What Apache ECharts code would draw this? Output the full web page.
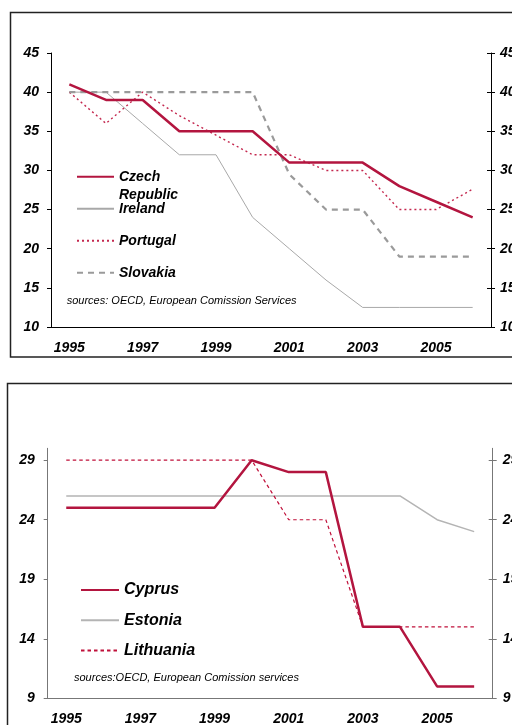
<!DOCTYPE html>
<html>
<head>
<meta charset="utf-8">
<style>
  html, body { margin: 0; padding: 0; background: #fff; }
  #chart { width: 512px; height: 725px; }
</style>
<script src="https://cdn.jsdelivr.net/npm/echarts@6.0.0/dist/echarts.min.js"></script>
</head>
<body>
<div id="chart"></div>
<script>
// years on the x axis (both panels)
const years = ['1995', '1996', '1997', '1998', '1999', '2000', '2001', '2002', '2003', '2004', '2005', '2006'];

// top panel
const czech = [41, 39, 39, 35, 35, 35, 31, 31, 31, 28, 26, 24];
const ireland = [40, 40, 36, 32, 32, 24, 20, 16, 12.5, 12.5, 12.5, 12.5];
const portugal = [40, 36, 40, 37, 34.5, 32, 32, 30, 30, 25, 25, 27.6];
const slovakia = [40, 40, 40, 40, 40, 40, 29.5, 25, 25, 19, 19, 19];

// bottom panel
const cyprus = [25, 25, 25, 25, 25, 29, 28, 28, 15, 15, 10, 10];
const estonia = [26, 26, 26, 26, 26, 26, 26, 26, 26, 26, 24, 23];
const lithuania = [29, 29, 29, 29, 29, 29, 24, 24, 15, 15, 15, 15];
const bottomTicks = [9, 14, 19, 24, 29];

const RED = '#b3153f';
const FONT = '"Liberation Sans", Arial, sans-serif';

const labelStyle = {
  color: '#000',
  fontFamily: FONT,
  fontSize: 14,
  fontWeight: 'bold',
  fontStyle: 'italic'
};

// three overlapping x axes per grid: main (labels + outer ticks), inner boundary ticks, small centre ticks
const makeXAxes = (gridIndex, lineColor) => [
  {
    gridIndex,
    type: 'category',
    data: years,
    boundaryGap: true,
    axisLine: { lineStyle: { color: lineColor, width: 1 } },
    axisTick: { interval: 0, length: 4, lineStyle: { color: lineColor } },
    axisLabel: { ...labelStyle, interval: 1, margin: 14 },
    splitLine: { show: false }
  },
  {
    gridIndex,
    type: 'category',
    data: years,
    boundaryGap: true,
    axisLine: { show: false },
    axisTick: { interval: 0, inside: true, length: 4, lineStyle: { color: lineColor } },
    axisLabel: { show: false },
    splitLine: { show: false }
  },
  {
    gridIndex,
    type: 'category',
    data: years,
    boundaryGap: true,
    axisLine: { show: false },
    axisTick: { interval: 0, inside: true, length: 3, alignWithLabel: true, lineStyle: { color: lineColor } },
    axisLabel: { show: false },
    splitLine: { show: false }
  }
];

const makeYAxes = (gridIndex, lineColor, scale, leftMargin, rightMargin) => {
  const custom = scale.ticks ? { customValues: scale.ticks } : {};
  const range = { min: scale.min, max: scale.max, ...(scale.interval ? { interval: scale.interval } : {}) };
  return [
    {
      gridIndex,
      type: 'value',
      position: 'left',
      ...range,
      axisLine: { show: true, lineStyle: { color: lineColor } },
      axisTick: { show: true, length: 4, lineStyle: { color: lineColor }, ...custom },
      axisLabel: { ...labelStyle, margin: leftMargin, ...custom },
      splitLine: { show: false }
    },
    {
      gridIndex,
      type: 'value',
      position: 'right',
      ...range,
      axisLine: { show: true, lineStyle: { color: lineColor } },
      axisTick: { show: true, length: 4, lineStyle: { color: lineColor }, ...custom },
      axisLabel: { ...labelStyle, margin: rightMargin, ...custom },
      splitLine: { show: false }
    },
    {
      gridIndex,
      type: 'value',
      position: 'right',
      ...range,
      axisLine: { show: false },
      axisTick: { show: true, inside: true, length: 4, lineStyle: { color: lineColor }, ...custom },
      axisLabel: { show: false },
      splitLine: { show: false }
    }
  ];
};

const lineSeries = (name, data, axisIdx, lineStyle, z) => ({
  name,
  type: 'line',
  data,
  xAxisIndex: axisIdx,
  yAxisIndex: axisIdx,
  symbol: 'none',
  lineStyle,
  itemStyle: { color: lineStyle.color },
  z
});

const legendBase = {
  orient: 'vertical',
  padding: 0,
  itemWidth: 37,
  itemHeight: 12,
  selectedMode: false,
  itemStyle: { opacity: 0 },
  textStyle: { ...labelStyle, lineHeight: 18 }
};

const chart = echarts.init(document.getElementById('chart'));

const topScale = { min: 10, max: 45, interval: 5 };
const bottomScale = { min: 9, max: 30, ticks: bottomTicks };

chart.setOption({
  animation: false,
  grid: [
    { left: 51, right: 21, top: 53, bottom: 398, outerBoundsMode: 'none' },
    { left: 47.7, right: 19.3, top: 448.3, bottom: 26.7, outerBoundsMode: 'none' }
  ],
  xAxis: [...makeXAxes(0, '#000'), ...makeXAxes(1, '#777')],
  yAxis: [...makeYAxes(0, '#000', topScale, 12, 9), ...makeYAxes(1, '#777', bottomScale, 13, 10)],
  legend: [
    {
      ...legendBase,
      left: 76,
      top: 149.7,
      data: ['Czech Republic'],
      formatter: () => '\nCzech\nRepublic'
    },
    {
      ...legendBase,
      left: 76,
      top: 199.7,
      itemGap: 14,
      data: ['Ireland', 'Portugal', 'Slovakia']
    },
    {
      ...legendBase,
      left: 80,
      top: 581,
      itemWidth: 38,
      itemGap: 12.3,
      textStyle: { ...labelStyle, fontSize: 16, lineHeight: 18 },
      data: ['Cyprus', 'Estonia', 'Lithuania']
    }
  ],
  title: [
    {
      text: 'sources: OECD, European Comission Services',
      left: 66.7,
      top: 295,
      padding: 0,
      textStyle: { fontFamily: FONT, fontSize: 11, fontStyle: 'italic', fontWeight: 'normal', color: '#000' }
    },
    {
      text: 'sources:OECD, European Comission services',
      left: 74,
      top: 672,
      padding: 0,
      textStyle: { fontFamily: FONT, fontSize: 11, fontStyle: 'italic', fontWeight: 'normal', color: '#000' }
    }
  ],
  graphic: [
    { type: 'rect', shape: { x: 10.5, y: 12.5, width: 520, height: 344.5 }, style: { fill: 'none', stroke: '#222', lineWidth: 1.5 }, silent: true },
    { type: 'rect', shape: { x: 7.5, y: 383.5, width: 520, height: 400 }, style: { fill: 'none', stroke: '#222', lineWidth: 1.5 }, silent: true }
  ],
  series: [
    lineSeries('Ireland', ireland, 0, { color: '#a8a8a8', width: 1 }, 2),
    lineSeries('Portugal', portugal, 0, { color: '#c4284f', width: 1.4, type: [2, 3] }, 3),
    lineSeries('Slovakia', slovakia, 0, { color: '#9a9a9a', width: 2.2, type: [6, 5] }, 3),
    lineSeries('Czech Republic', czech, 0, { color: RED, width: 2.5 }, 4),
    lineSeries('Estonia', estonia, 3, { color: '#b4b4b4', width: 1.5 }, 2),
    lineSeries('Lithuania', lithuania, 3, { color: '#c0103a', width: 1.2, type: [3.5, 3] }, 3),
    lineSeries('Cyprus', cyprus, 3, { color: RED, width: 2.5 }, 4)
  ]
});

window.addEventListener('resize', () => chart.resize());
</script>
</body>
</html>
